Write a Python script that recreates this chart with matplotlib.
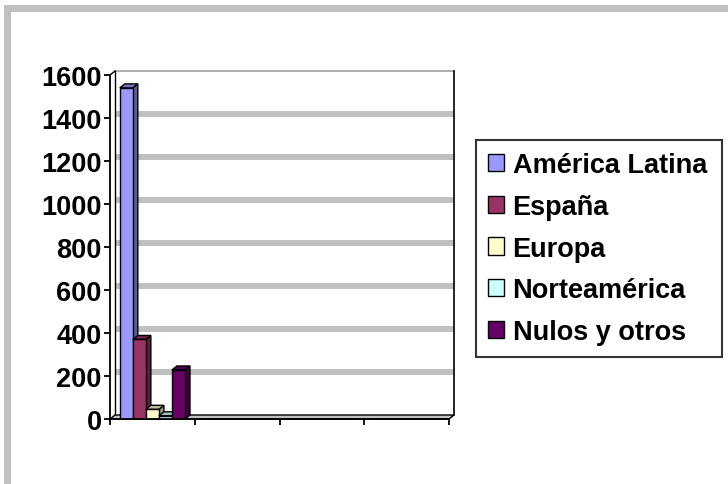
import matplotlib
matplotlib.use('Agg')
import numpy as np
import matplotlib.pyplot as plt
from matplotlib import transforms
from matplotlib.patches import Polygon, Rectangle

# data
categories = [1, 2, 3, 4]
series_names = ['América Latina', 'España', 'Europa', 'Norteamérica', 'Nulos y otros']
america_latina = [1540, 0, 0, 0]
espana = [370, 0, 0, 0]
europa = [45, 0, 0, 0]
norteamerica = [15, 0, 0, 0]
nulos_otros = [228, 0, 0, 0]
y_ticks = [0, 200, 400, 600, 800, 1000, 1200, 1400, 1600]

series = [america_latina, espana, europa, norteamerica, nulos_otros]
colors = ['#9999FF', '#993366', '#FFFFCC', '#CCFFFF', '#660066']

plt.rcParams['font.family'] = ['Liberation Sans', 'DejaVu Sans']

W, H = 728, 485
fig = plt.figure(figsize=(W / 100, H / 100), dpi=100)
ax = fig.add_axes([110 / W, 1 - 420 / H, 339 / W, 344 / H])
ax.set_xlim(0, len(categories))
ax.set_ylim(0, y_ticks[-1])

# 3d depth, in pixels then data units
DX, DY = 5, 4
dx = DX * len(categories) / 339
dy = DY * y_ticks[-1] / 344
back = transforms.offset_copy(ax.transData, fig=fig, x=DX, y=DY, units='dots')
xmax = len(categories)

# back wall
for v in y_ticks[1:-1]:
    ax.plot([0, xmax], [v, v], transform=back, color='#C0C0C0', lw=4.3,
            solid_capstyle='butt', zorder=1, clip_on=False)
ax.plot([0, xmax], [y_ticks[-1]] * 2, transform=back, color='#A0A0A0', lw=1.2, zorder=1, clip_on=False)
ax.plot([xmax, xmax], [0, y_ticks[-1]], transform=back, color='black', lw=1.2, zorder=1, clip_on=False)
ax.plot([0, 0], [0, y_ticks[-1]], transform=back, color='black', lw=1, zorder=1, clip_on=False)
ax.plot([0, dx], [y_ticks[-1], y_ticks[-1] + dy], color='black', lw=1, zorder=1, clip_on=False)

# floor
floor = Polygon([(0, 0), (xmax, 0), (xmax + dx, dy), (dx, dy)], closed=True,
                fc='#C0C0C0', ec='black', lw=1, zorder=2, clip_on=False)
ax.add_patch(floor)


def shade(c, f):
    rgb = np.array(matplotlib.colors.to_rgb(c))
    return tuple(rgb * f)


w = 1 / 6.5
handles = []
for i, vals in enumerate(series):
    x = np.array(categories) - 1 + 0.75 / 6.5 + i * w
    z = 3 + i
    for xi, v in zip(x, vals):
        if v <= 0:
            continue
        side = Polygon([(xi + w, 0), (xi + w, v), (xi + w + dx, v + dy), (xi + w + dx, dy)],
                       closed=True, fc=shade(colors[i], 0.6), ec='black', lw=1, zorder=z)
        top = Polygon([(xi, v), (xi + w, v), (xi + w + dx, v + dy), (xi + dx, v + dy)],
                      closed=True, fc=shade(colors[i], 0.75), ec='black', lw=1, zorder=z)
        ax.add_patch(side)
        ax.add_patch(top)
    b = ax.bar(x, vals, width=w, align='edge', color=colors[i], edgecolor='black',
               lw=1, zorder=z + 0.5, label=series_names[i])
    handles.append(b)

# axes
for s in ['top', 'right']:
    ax.spines[s].set_visible(False)
for s in ['left', 'bottom']:
    ax.spines[s].set_linewidth(1.3)
    ax.spines[s].set_zorder(10)
ax.set_yticks(y_ticks)
ax.set_yticklabels([str(t) for t in y_ticks], fontsize=19.5, fontweight='bold')
ax.set_xticks(range(0, xmax + 1))
ax.set_xticklabels([])
ax.tick_params(axis='both', direction='out', length=4, width=1.3, pad=2)
ax.patch.set_visible(False)

leg = ax.legend(handles=handles, loc='upper left',
                bbox_to_anchor=(476 / W, 1 - 352 / H, 246 / W, 211 / H),
                bbox_transform=fig.transFigure, mode='expand', frameon=True, fancybox=False,
                edgecolor='black', borderaxespad=0,
                prop=dict(weight='bold', size=19.5), handlelength=0.6, handleheight=0.6,
                handletextpad=0.3, labelspacing=0.58, borderpad=0.45)
leg.get_frame().set_linewidth(1.5)

# chart area border
fig.patches.append(Rectangle((6.5 / W, -0.1), 1.2, 1.1 - 8.5 / H, transform=fig.transFigure,
                             fill=False, ec='#C0C0C0', lw=5.04, zorder=0))

fig.savefig('out.png', dpi=100)
